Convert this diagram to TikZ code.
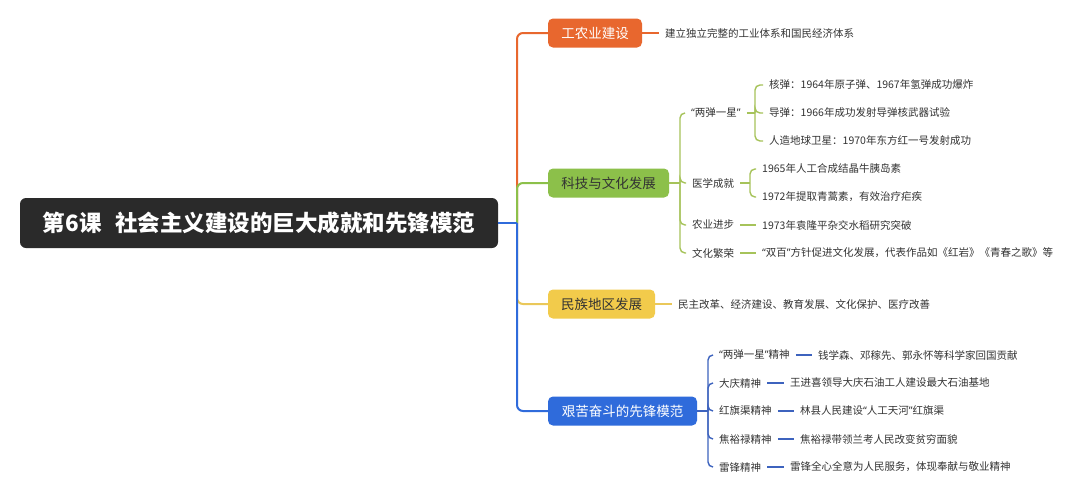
\documentclass[tikz,border=0pt]{standalone}
\usepackage{fontspec}
\setmainfont{Noto Sans CJK SC}
\newfontfamily\qfont{Noto Sans}
\newcommand\myqL{{\qfont “}}
\newcommand\myqR{{\qfont ”}}
\definecolor{rootc}{HTML}{2A2A2A}
\definecolor{orc}{HTML}{E8672E}
\definecolor{grc}{HTML}{8CC04A}
\definecolor{grl}{HTML}{A6C35A}
\definecolor{yec}{HTML}{F2CB4B}
\definecolor{yel}{HTML}{EAC85A}
\definecolor{blc}{HTML}{2F6BDB}
\definecolor{bll}{HTML}{3D63BE}
\definecolor{txt}{HTML}{333333}
\begin{document}
\begin{tikzpicture}[x=1pt,y=-1pt,
  root/.style={fill=rootc,rounded corners=6pt,minimum width=478pt,minimum height=50pt,text=white,font=\fontsize{22.5}{25}\selectfont\bfseries},
  cat/.style={rounded corners=5pt,minimum height=29pt,inner xsep=0pt,font=\fontsize{13.5}{16}\selectfont},
  lbl/.style={inner xsep=6pt,inner ysep=2pt,anchor=west,text=txt,font=\fontsize{10.5}{12}\selectfont},
  mainln/.style={line width=2pt,rounded corners=6pt},
  subln/.style={line width=1.4pt,rounded corners=5pt}]
\useasboundingbox (0,0) rectangle (1080,499);
\fill[white] (0,0) rectangle (1080,499);
% root
\node[root] (root) at (259,223) {第6课\hspace{0.6em}社会主义建设的巨大成就和先锋模范};
% categories
\node[cat,fill=orc,text=white,minimum width=94pt] (ind) at (595,33) {工农业建设};
\node[cat,fill=grc,text=txt,minimum width=121pt] (kj) at (608.5,183) {科技与文化发展};
\node[cat,fill=yec,text=txt,minimum width=107pt] (mz) at (601.5,304) {民族地区发展};
\node[cat,fill=blc,text=white,minimum width=149pt] (jk) at (622.5,411) {艰苦奋斗的先锋模范};
% main connectors
\coordinate (trunk) at (517,223);
\draw[mainln,orc] (trunk) |- (ind.west);
\draw[mainln,grc] (trunk) |- (kj.west);
\draw[mainln,yel] (trunk) |- (mz.west);
\draw[mainln,blc] (trunk) |- (jk.west);
\draw[mainln,blc] (root.east) -- (trunk);
% industry
\node[lbl] (d1) at (659,33) {建立独立完整的工业体系和国民经济体系};
\draw[subln,orc] (ind.east) -- (d1.west);
% science
\node[lbl] (s1) at (685,113) {\myqL 两弹一星\myqR};
\node[lbl] (s2) at (686,183) {医学成就};
\node[lbl] (s3) at (686,225) {农业进步};
\node[lbl] (s4) at (686,253) {文化繁荣};
\coordinate (kb) at (680,183);
\draw[subln,grl] (kj.east) -- (kb);
\foreach \n in {s1,s2,s3,s4} \draw[subln,grl] (kb) |- (\n.west);
\node[lbl] (s11) at (763,85) {核弹：1964年原子弹、1967年氢弹成功爆炸};
\node[lbl] (s12) at (763,113) {导弹：1966年成功发射导弹核武器试验};
\node[lbl] (s13) at (763,141) {人造地球卫星：1970年东方红一号发射成功};
\coordinate (sb1) at (755,113);
\draw[subln,grl] (s1.east) -- (sb1);
\foreach \n in {s11,s12,s13} \draw[subln,grl] (sb1) |- (\n.west);
\node[lbl] (s21) at (756,169) {1965年人工合成结晶牛胰岛素};
\node[lbl] (s22) at (756,197) {1972年提取青蒿素，有效治疗疟疾};
\coordinate (sb2) at (750,183);
\draw[subln,grl] (s2.east) -- (sb2);
\foreach \n in {s21,s22} \draw[subln,grl] (sb2) |- (\n.west);
\node[lbl] (s31) at (756,225) {1973年袁隆平杂交水稻研究突破};
\draw[subln,grl] (s3.east) -- (s31.west);
\node[lbl] (s41) at (756,253) {\myqL 双百\myqR 方针促进文化发展，代表作品如《红岩》《青春之歌》等};
\draw[subln,grl] (s4.east) -- (s41.west);
% ethnic
\node[lbl] (m1) at (672,304) {民主改革、经济建设、教育发展、文化保护、医疗改善};
\draw[subln,yel] (mz.east) -- (m1.west);
% pioneers
\node[lbl] (b1) at (713,355) {\myqL 两弹一星\myqR 精神};
\node[lbl] (b2) at (713,383) {大庆精神};
\node[lbl] (b3) at (713,411) {红旗渠精神};
\node[lbl] (b4) at (713,439) {焦裕禄精神};
\node[lbl] (b5) at (713,467) {雷锋精神};
\coordinate (bb) at (708,411);
\draw[subln,bll] (jk.east) -- (bb);
\foreach \n in {b1,b2,b3,b4,b5} \draw[subln,bll] (bb) |- (\n.west);
\node[lbl] (b11) at (812,355) {钱学森、邓稼先、郭永怀等科学家回国贡献};
\node[lbl] (b21) at (784,383) {王进喜领导大庆石油工人建设最大石油基地};
\node[lbl] (b31) at (794,411) {林县人民建设\myqL 人工天河\myqR 红旗渠};
\node[lbl] (b41) at (794,439) {焦裕禄带领兰考人民改变贫穷面貌};
\node[lbl] (b51) at (784,467) {雷锋全心全意为人民服务，体现奉献与敬业精神};
\draw[subln,bll] (b1.east) -- (b11.west);
\draw[subln,bll] (b2.east) -- (b21.west);
\draw[subln,bll] (b3.east) -- (b31.west);
\draw[subln,bll] (b4.east) -- (b41.west);
\draw[subln,bll] (b5.east) -- (b51.west);
\end{tikzpicture}
\end{document}
